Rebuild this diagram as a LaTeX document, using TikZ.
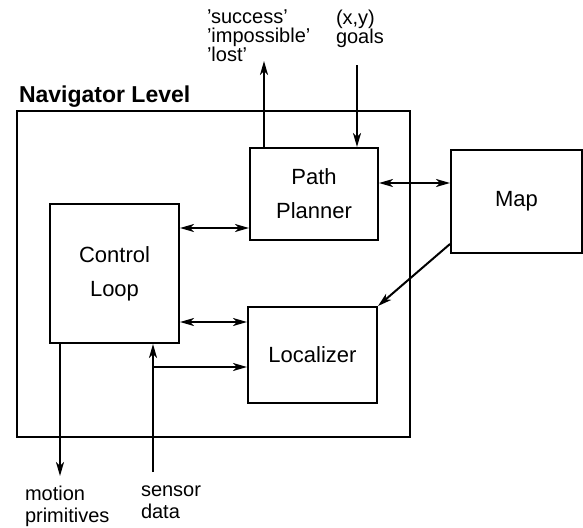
\documentclass[tikz,border=0pt]{standalone}
\usepackage{fontspec}
\setmainfont{Liberation Sans}
\usetikzlibrary{arrows.meta}
\begin{document}
\begin{tikzpicture}[x=1pt,y=-1pt,
  line width=2pt,
  box/.style={draw,rectangle,inner sep=0pt,font=\fontsize{22}{34}\selectfont,align=center},
  lbl/.style={inner sep=0pt,anchor=north west,align=left,font=\fontsize{20}{19}\selectfont},
  arr/.style={-{Stealth[length=14pt,width=8pt,inset=4pt]}},
  darr/.style={{Stealth[length=14pt,width=8pt,inset=4pt]}-{Stealth[length=14pt,width=8pt,inset=4pt]}}]
\useasboundingbox (0,0) rectangle (583,527);
% outer frame
\node[draw,rectangle,inner sep=0pt,minimum width=393pt,minimum height=326pt] (nav) at (213.5,274) {};
\node[anchor=base west,inner sep=0pt,font=\fontsize{23}{23}\bfseries\selectfont] (navl) at (18,102) {Navigator Level};
% boxes
\node[box,minimum width=128pt,minimum height=92pt] (pp) at (314,194) {Path\\Planner};
\node[box,minimum width=131pt,minimum height=103pt] (map) at (516.5,201.5) {Map};
\node[box,minimum width=129pt,minimum height=139pt] (cl) at (114.5,273.5) {Control\\Loop};
\node[box,minimum width=129pt,minimum height=96pt] (loc) at (312.5,355) {Localizer};
% texts
\node[lbl] (out) at (206,9) {'success'\\'impossible'\\'lost'};
\node[lbl] (goals) at (335,9) {(x,y)\\goals};
\node[lbl,font=\fontsize{20}{22}\selectfont] (mot) at (24,485) {motion\\primitives};
\node[lbl,font=\fontsize{20}{22}\selectfont] (sens) at (140,485) {sensor\\data};
% coordinates
\coordinate (outtip) at (264,61);
\coordinate (goalstart) at (357,65);
\coordinate (motend) at (60,476);
\coordinate (sensstart) at (153,472);
\coordinate (junc) at (153,367);
% connectors
\draw[arr] (pp.north -| outtip) -- (outtip);
\draw[arr] (goalstart) -- (goalstart |- pp.north);
\draw[darr] (cl.east |- 0,228) -- (pp.west |- 0,228);
\draw[darr] (cl.east |- 0,322) -- (loc.west |- 0,322);
\draw[darr] (pp.east |- 0,183) -- (map.west |- 0,183);
\draw[arr] (map.west |- 0,244) -- (loc.north east);
\draw[arr] (motend |- cl.south) -- (motend);
\draw[arr] (sensstart) -- (sensstart |- cl.south);
\draw[arr] (junc) -- (junc -| loc.west);
\end{tikzpicture}
\end{document}
